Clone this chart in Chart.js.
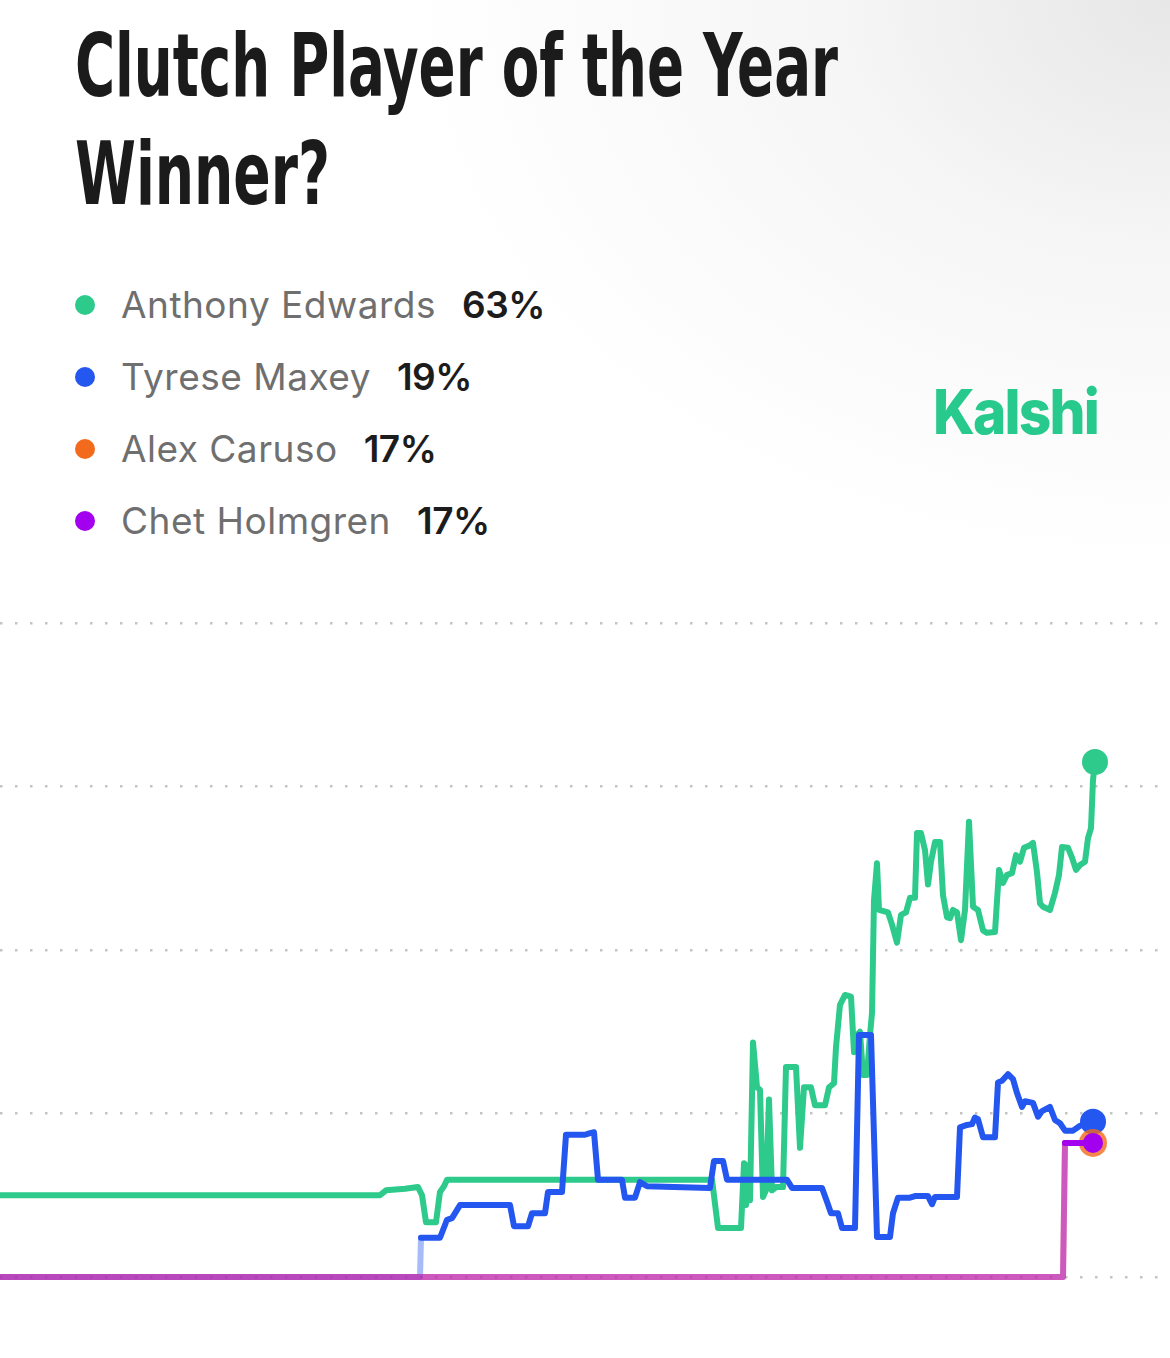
<!DOCTYPE html>
<html>
<head>
<meta charset="utf-8">
<script src="https://cdn.jsdelivr.net/npm/chart.js@4.4.1/dist/chart.umd.min.js"></script>
<style>
  html, body { margin:0; padding:0; }
  body {
    width:1170px; height:1358px; overflow:hidden; position:relative;
    background: radial-gradient(ellipse 760px 560px at 100% 0%, #e7e7e7 0%, #f6f6f6 45%, #ffffff 100%);
    font-family: Inter, "Noto Sans", sans-serif;
  }
  .title {
    position:absolute; left:75px; margin:0;
    font-family:"Liberation Sans Narrow","DejaVu Sans Condensed",sans-serif;
    font-weight:700; font-size:88px; line-height:108px; color:#1b1b1b;
    white-space:nowrap; display:inline-block; transform-origin:0 0;
  }
  .legend-row { position:absolute; left:0; height:40px; white-space:nowrap; }
  .dot { position:absolute; left:75px; width:20px; height:20px; border-radius:50%; }
  .name { position:absolute; left:121px; font-size:37px; color:#6f6f6f; font-weight:400; line-height:40px; letter-spacing:0.5px; }
  .pct { position:absolute; font-size:37px; color:#1c1c1c; font-weight:600; line-height:40px; letter-spacing:-0.5px; }
  .logo {
    position:absolute; left:933px; top:372px; font-family:Inter,"Noto Sans",sans-serif;
    font-weight:800; font-size:62px; line-height:80px; color:#27c98c; letter-spacing:-2px;
    display:inline-block; transform-origin:0 0; white-space:nowrap;
  }
  canvas { position:absolute; left:0; top:580px; }
</style>
</head>
<body>
<div class="title" id="t1" data-w="763" style="top:12px">Clutch Player of the Year</div>
<div class="title" id="t2" data-w="255" style="top:120px">Winner?</div>
<div id="legend"></div>
<div class="logo" id="logo" data-w="165">Kalshi</div>
<canvas id="c" width="1170" height="778"></canvas>
<script>
// ---- data (time index, probability %) ----
const seriesNames = ['Anthony Edwards', 'Tyrese Maxey', 'Alex Caruso', 'Chet Holmgren'];
const seriesLabels = ['63%', '19%', '17%', '17%'];
const seriesColors = ['#2dca8c', '#2456f0', '#f26a1b', '#a300f0'];

const edwardsT = [0,380,386,405,418,422,426,436,440,444,447,712,718,741,744,746,748,750,753,757,760,763,766,769,772,776,783,786,796,800,804,811,815,825,829,834,836,840,845,851,854,857,860,863,867,870,872,874,877,879,888,892,897,901,906,910,915,917,921,925,928,931,935,940,943,947,950,953,957,961,965,969,973,978,983,987,995,999,1003,1007,1012,1016,1020,1024,1030,1033,1037,1040,1043,1050,1055,1059,1062,1068,1072,1076,1080,1085,1088,1091,1093,1095];
const edwardsV = [10.0,10.0,10.6,10.8,11.0,10.0,6.7,6.7,10.4,11.1,11.9,11.9,6.0,6.0,13.9,8.8,13.7,9.4,28.7,23.2,22.9,9.8,10.6,21.7,10.6,11.0,11.0,25.7,25.7,15.8,23.2,23.2,21.0,21.0,23.2,23.7,28.1,33.3,34.5,34.3,27.5,29.6,30.0,24.7,24.7,29.6,32.3,46.1,50.6,44.9,44.6,43.1,40.9,44.3,44.6,46.4,46.4,54.3,54.3,52.2,48.0,50.8,53.2,53.2,46.7,44.0,43.9,44.9,44.6,41.2,44.9,55.7,45.3,44.9,42.4,42.1,42.2,49.8,48.2,49.2,49.4,51.6,50.8,52.5,52.8,53.1,49.5,45.7,45.3,44.9,47.0,49.2,52.6,52.5,51.3,49.8,50.4,50.8,53.7,54.9,60.8,63.0];

const maxeyT = [0,420,421,440,447,452,460,510,514,528,532,545,548,562,566,585,590,594,598,622,625,635,640,647,710,714,723,727,787,792,822,827,831,838,842,855,859,871,877,890,893,898,910,915,928,932,935,957,960,967,972,975,978,983,995,998,1002,1008,1013,1017,1022,1025,1033,1038,1042,1050,1055,1060,1065,1073,1080,1093];
const maxeyV = [0,0,4.8,4.8,7.0,7.2,8.8,8.8,6.2,6.2,7.8,7.8,10.4,10.4,17.4,17.4,17.6,17.7,11.9,11.9,9.7,9.7,11.6,11.1,10.9,14.2,14.2,11.9,11.9,10.9,10.9,9.2,7.8,7.8,6.0,6.0,29.6,29.6,4.9,4.9,7.8,9.7,9.7,9.9,9.9,8.9,9.8,9.8,18.3,18.6,18.7,19.5,19.3,17.1,17.1,23.8,24.0,24.8,24.2,22.5,20.8,21.5,21.3,19.6,20.3,20.8,19.2,18.8,17.9,17.9,18.5,19.0];

const carusoT = [0,1063,1065,1093];
const carusoV = [0,0,16.4,16.4];
const holmgrenT = [0,1063,1065,1093];
const holmgrenV = [0,0,16.4,16.4];

const yTicks = [0, 20, 40, 60, 80];
const timeMin = 0, timeMax = 1160;

// ---- legend (HTML) ----
const legend = document.getElementById('legend');
seriesNames.forEach((n, i) => {
  const top = 285 + i * 72;
  const row = document.createElement('div');
  row.className = 'legend-row';
  row.style.top = top + 'px';
  row.innerHTML = `<span class="dot" style="top:10px;background:${seriesColors[i]}"></span>` +
    `<span class="name">${n}</span><span class="pct">${seriesLabels[i]}</span>`;
  legend.appendChild(row);
});

function fit() {
  document.querySelectorAll('[data-w]').forEach(el => {
    el.style.transform = 'none';
    const w = el.getBoundingClientRect().width;
    el.style.transform = `scaleX(${el.dataset.w / w})`;
  });
  document.querySelectorAll('.legend-row').forEach(r => {
    const nm = r.querySelector('.name'), p = r.querySelector('.pct');
    p.style.left = (121 + nm.getBoundingClientRect().width + 26) + 'px';
  });
}
fit();

// ---- chart ----
function pts(T, V) { return T.map((t, i) => ({ x: t, y: V[i] })); }
function rgba(hex, a) {
  const n = parseInt(hex.slice(1), 16);
  return `rgba(${n >> 16},${(n >> 8) & 255},${n & 255},${a})`;
}
function lastRadius(r) {
  return ctx => ctx.dataIndex === ctx.dataset.data.length - 1 ? r : 0;
}
function mk(label, T, V, color, zeroAlpha, r, pointColor) {
  return {
    label, data: pts(T, V), borderColor: color, backgroundColor: pointColor || color,
    borderWidth: 6, tension: 0, borderJoinStyle: 'round', borderCapStyle: 'round',
    pointRadius: lastRadius(r), pointHoverRadius: lastRadius(r), pointBorderWidth: 0,
    segment: { borderColor: c => c.p0.parsed.y === 0 ? rgba(color, zeroAlpha) : undefined },
    clip: false
  };
}

new Chart(document.getElementById('c'), {
  type: 'line',
  data: {
    datasets: [
      mk(seriesNames[3], holmgrenT, holmgrenV, seriesColors[3], 0.5, 10),
      mk(seriesNames[2], carusoT, carusoV, seriesColors[2], 0.5, 14, rgba(seriesColors[2], 0.8)),
      mk(seriesNames[1], maxeyT, maxeyV, seriesColors[1], 0.4, 13),
      mk(seriesNames[0], edwardsT, edwardsV, seriesColors[0], 1, 13)
    ]
  },
  options: {
    responsive: false, animation: false, devicePixelRatio: 1,
    layout: { autoPadding: false, padding: { top: 43, bottom: 81, left: 0, right: 10 } },
    plugins: { legend: { display: false }, tooltip: { enabled: false } },
    scales: {
      x: { type: 'linear', min: timeMin, max: timeMax, display: false },
      y: {
        min: yTicks[0], max: yTicks[yTicks.length - 1],
        afterBuildTicks: s => { s.ticks = yTicks.map(v => ({ value: v })); },
        afterFit: s => { s.width = 0; },
        ticks: { display: false },
        grid: { color: '#c4c4c4', lineWidth: 2.5, drawTicks: false },
        border: { display: false, dash: [2.5, 12.5], dashOffset: 0 }
      }
    }
  }
});
</script>
</body>
</html>
